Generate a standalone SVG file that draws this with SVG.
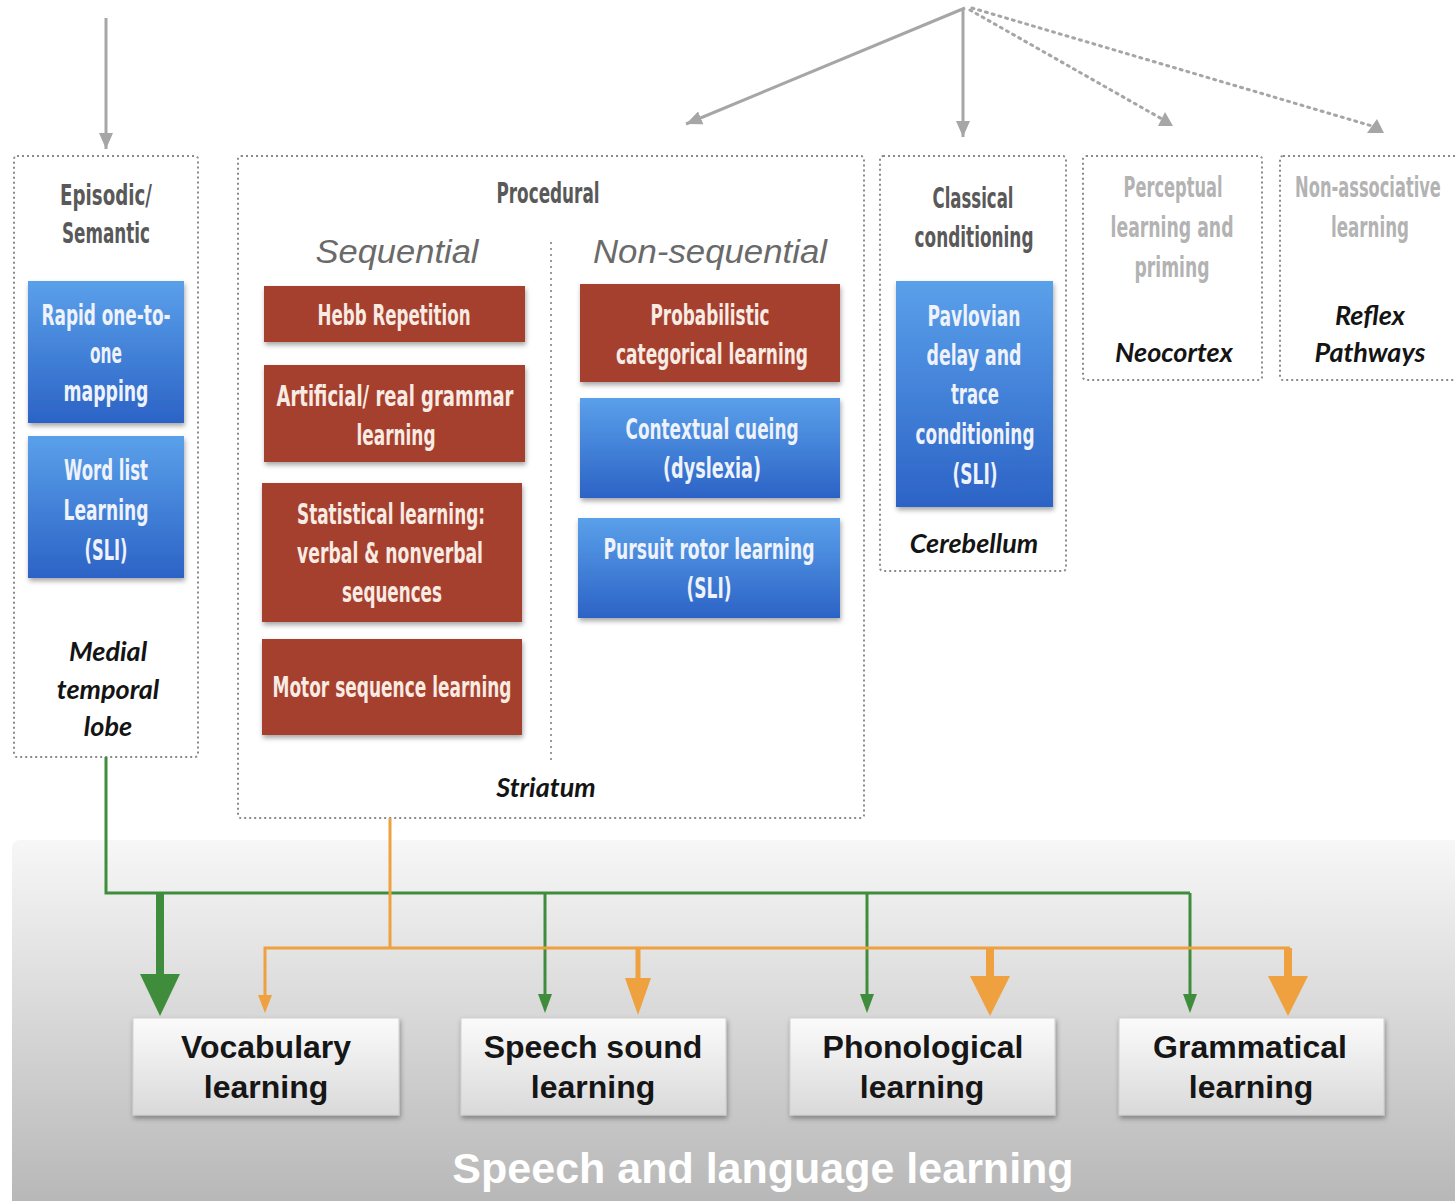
<svg xmlns="http://www.w3.org/2000/svg" width="1455" height="1201" viewBox="0 0 1455 1201">
  <style>
    .frame { fill: #fff; stroke: #8a8a8a; stroke-width: 2; stroke-dasharray: 2 3; }
    .cond { font-family: "DejaVu Sans Condensed", "DejaVu Sans", sans-serif; font-stretch: condensed; font-weight: 700; text-anchor: middle; }
    .head { font-size: 29px; fill: #595959; }
    .faint { font-size: 29px; fill: #b3b3b3; }
    .inbox { font-size: 29px; fill: #eef2fa; }
    .inred { font-size: 29px; fill: #f8ebe4; }
    .region { font-family: Lato, "Open Sans", sans-serif; font-style: italic; font-weight: 700; font-size: 27px; fill: #141414; text-anchor: middle; }
    .sub { font-family: "Liberation Sans", Arial, sans-serif; font-style: italic; font-weight: 300; font-size: 34px; fill: #6a6a6a; text-anchor: middle; }
    .outcome { font-family: "Liberation Sans", Arial, sans-serif; font-weight: 700; font-size: 32px; fill: #161616; text-anchor: middle; }
    .blue { fill: url(#blueGrad); filter: url(#shadow); }
    .red { fill: #a6402d; filter: url(#shadow); }
    .grey { fill: url(#greyGrad); stroke: #cfcfcf; stroke-width: 1; filter: url(#shadow); }
    .link { fill: none; stroke: #a6a6a6; stroke-width: 3; }
    .dotlink { fill: none; stroke: #a6a6a6; stroke-width: 3; stroke-dasharray: 2 5; stroke-linecap: round; }
    .green { fill: none; stroke: #3f8d3c; stroke-width: 3; }
    .orange { fill: none; stroke: #efa03f; stroke-width: 3; }
  </style>
  <defs>
    <linearGradient id="blueGrad" x1="0" y1="0" x2="0" y2="1">
      <stop offset="0" stop-color="#5aa0ea"/>
      <stop offset="1" stop-color="#2c63c6"/>
    </linearGradient>
    <linearGradient id="greyGrad" x1="0" y1="0" x2="0" y2="1">
      <stop offset="0" stop-color="#fbfbfb"/>
      <stop offset="1" stop-color="#d9d9d9"/>
    </linearGradient>
    <linearGradient id="panelGrad" x1="0" y1="0" x2="0" y2="1">
      <stop offset="0" stop-color="#f7f7f7"/>
      <stop offset="1" stop-color="#b6b6b6"/>
    </linearGradient>
    <filter id="shadow" x="-10%" y="-10%" width="125%" height="130%">
      <feDropShadow dx="1" dy="3" stdDeviation="2.5" flood-color="#000" flood-opacity="0.35"/>
    </filter>
    <marker id="grayHead" markerUnits="userSpaceOnUse" markerWidth="18" markerHeight="16" refX="16" refY="8" orient="auto">
      <path d="M0,1 L16,8 L0,15 z" fill="#a6a6a6"/>
    </marker>
  </defs>

  <!-- lower panel: speech and language outcomes -->
  <rect id="panel" x="12" y="840" width="1450" height="370" rx="8" fill="url(#panelGrad)"/>
  <text x="763" y="1183" font-family="Liberation Sans, Arial, sans-serif" font-weight="700" font-size="43" fill="#ffffff" text-anchor="middle">Speech and language learning</text>

  <!-- memory systems -->
  <g id="episodic">
    <rect class="frame" x="14" y="156" width="184" height="601" rx="3"/>
    <text class="cond head" x="106" y="205" textLength="92" lengthAdjust="spacingAndGlyphs">Episodic/</text>
    <text class="cond head" x="106" y="243" textLength="88" lengthAdjust="spacingAndGlyphs">Semantic</text>
    <text class="region" x="108" y="661">Medial</text>
    <text class="region" x="108" y="699">temporal</text>
    <text class="region" x="108" y="736">lobe</text>
  </g>
  <g id="rapid-mapping">
    <rect class="blue" x="28" y="281" width="156" height="142"/>
    <text class="cond inbox" x="106" y="325" textLength="129" lengthAdjust="spacingAndGlyphs">Rapid one-to-</text>
    <text class="cond inbox" x="106" y="363" textLength="32" lengthAdjust="spacingAndGlyphs">one</text>
    <text class="cond inbox" x="106" y="401" textLength="85" lengthAdjust="spacingAndGlyphs">mapping</text>
  </g>
  <g id="word-list">
    <rect class="blue" x="28" y="436" width="156" height="142"/>
    <text class="cond inbox" x="106" y="480" textLength="84" lengthAdjust="spacingAndGlyphs">Word list</text>
    <text class="cond inbox" x="106" y="520" textLength="85" lengthAdjust="spacingAndGlyphs">Learning</text>
    <text class="cond inbox" x="106" y="560" textLength="43" lengthAdjust="spacingAndGlyphs">(SLI)</text>
  </g>

  <g id="procedural">
    <rect class="frame" x="238" y="156" width="626" height="662" rx="3"/>
    <text class="cond head" x="548" y="203" textLength="103" lengthAdjust="spacingAndGlyphs">Procedural</text>
    <text class="sub" x="397" y="263" textLength="163" lengthAdjust="spacingAndGlyphs">Sequential</text>
    <text class="sub" x="710" y="263" textLength="234" lengthAdjust="spacingAndGlyphs">Non-sequential</text>
    <line x1="551" y1="242" x2="551" y2="760" stroke="#9a9a9a" stroke-width="2" stroke-dasharray="2 4"/>
    <text class="region" x="546" y="797">Striatum</text>
  </g>
  <g id="hebb">
    <rect class="red" x="264" y="286" width="261" height="56"/>
    <text class="cond inred" x="394" y="325" textLength="153" lengthAdjust="spacingAndGlyphs">Hebb Repetition</text>
  </g>
  <g id="grammar-learning">
    <rect class="red" x="264" y="365" width="261" height="97"/>
    <text class="cond inred" x="395" y="406" textLength="237" lengthAdjust="spacingAndGlyphs">Artificial/ real grammar</text>
    <text class="cond inred" x="396" y="445" textLength="79" lengthAdjust="spacingAndGlyphs">learning</text>
  </g>
  <g id="statistical">
    <rect class="red" x="262" y="483" width="260" height="139"/>
    <text class="cond inred" x="391" y="524" textLength="188" lengthAdjust="spacingAndGlyphs">Statistical learning:</text>
    <text class="cond inred" x="390" y="563" textLength="186" lengthAdjust="spacingAndGlyphs">verbal &amp; nonverbal</text>
    <text class="cond inred" x="392" y="602" textLength="100" lengthAdjust="spacingAndGlyphs">sequences</text>
  </g>
  <g id="motor-sequence">
    <rect class="red" x="262" y="639" width="260" height="96"/>
    <text class="cond inred" x="392" y="697" textLength="239" lengthAdjust="spacingAndGlyphs">Motor sequence learning</text>
  </g>
  <g id="probabilistic">
    <rect class="red" x="580" y="284" width="260" height="98"/>
    <text class="cond inred" x="710" y="325" textLength="119" lengthAdjust="spacingAndGlyphs">Probabilistic</text>
    <text class="cond inred" x="712" y="364" textLength="192" lengthAdjust="spacingAndGlyphs">categorical learning</text>
  </g>
  <g id="contextual-cueing">
    <rect class="blue" x="580" y="398" width="260" height="100"/>
    <text class="cond inbox" x="712" y="439" textLength="173" lengthAdjust="spacingAndGlyphs">Contextual cueing</text>
    <text class="cond inbox" x="712" y="478" textLength="98" lengthAdjust="spacingAndGlyphs">(dyslexia)</text>
  </g>
  <g id="pursuit-rotor">
    <rect class="blue" x="578" y="518" width="262" height="100"/>
    <text class="cond inbox" x="709" y="559" textLength="211" lengthAdjust="spacingAndGlyphs">Pursuit rotor learning</text>
    <text class="cond inbox" x="709" y="598" textLength="45" lengthAdjust="spacingAndGlyphs">(SLI)</text>
  </g>

  <g id="classical">
    <rect class="frame" x="880" y="156" width="186" height="415" rx="3"/>
    <text class="cond head" x="973" y="208" textLength="81" lengthAdjust="spacingAndGlyphs">Classical</text>
    <text class="cond head" x="974" y="247" textLength="119" lengthAdjust="spacingAndGlyphs">conditioning</text>
    <text class="region" x="974" y="553">Cerebellum</text>
  </g>
  <g id="pavlovian">
    <rect class="blue" x="896" y="281" width="157" height="226"/>
    <text class="cond inbox" x="974" y="326" textLength="93" lengthAdjust="spacingAndGlyphs">Pavlovian</text>
    <text class="cond inbox" x="974" y="365" textLength="95" lengthAdjust="spacingAndGlyphs">delay and</text>
    <text class="cond inbox" x="975" y="404" textLength="48" lengthAdjust="spacingAndGlyphs">trace</text>
    <text class="cond inbox" x="975" y="444" textLength="119" lengthAdjust="spacingAndGlyphs">conditioning</text>
    <text class="cond inbox" x="975" y="484" textLength="45" lengthAdjust="spacingAndGlyphs">(SLI)</text>
  </g>

  <g id="perceptual">
    <rect class="frame" x="1083" y="156" width="179" height="224" rx="3"/>
    <text class="cond faint" x="1173" y="197" textLength="99" lengthAdjust="spacingAndGlyphs">Perceptual</text>
    <text class="cond faint" x="1172" y="237" textLength="123" lengthAdjust="spacingAndGlyphs">learning and</text>
    <text class="cond faint" x="1172" y="277" textLength="75" lengthAdjust="spacingAndGlyphs">priming</text>
    <text class="region" x="1174" y="362">Neocortex</text>
  </g>
  <g id="non-associative">
    <rect class="frame" x="1280" y="156" width="185" height="224" rx="3"/>
    <text class="cond faint" transform="translate(1368,197) scale(0.6,1)" x="0" y="0" textLength="243" lengthAdjust="spacingAndGlyphs">Non-associative</text>
    <text class="cond faint" x="1370" y="237" textLength="78" lengthAdjust="spacingAndGlyphs">learning</text>
    <text class="region" x="1370" y="325">Reflex</text>
    <text class="region" x="1370" y="362">Pathways</text>
  </g>

  <!-- outcome boxes -->
  <g id="vocabulary">
    <rect class="grey" x="133" y="1018" width="266" height="97"/>
    <text class="outcome" x="266" y="1058">Vocabulary</text>
    <text class="outcome" x="266" y="1098">learning</text>
  </g>
  <g id="speech-sound">
    <rect class="grey" x="461" y="1018" width="265" height="97"/>
    <text class="outcome" x="593" y="1058">Speech sound</text>
    <text class="outcome" x="593" y="1098">learning</text>
  </g>
  <g id="phonological">
    <rect class="grey" x="790" y="1018" width="265" height="97"/>
    <text class="outcome" x="923" y="1058">Phonological</text>
    <text class="outcome" x="922" y="1098">learning</text>
  </g>
  <g id="grammatical">
    <rect class="grey" x="1119" y="1018" width="265" height="97"/>
    <text class="outcome" x="1250" y="1058">Grammatical</text>
    <text class="outcome" x="1251" y="1098">learning</text>
  </g>

  <!-- connectors -->
  <g id="connectors">
    <!-- incoming grey arrows -->
    <line class="link" x1="106" y1="18" x2="106" y2="149" marker-end="url(#grayHead)"/>
    <line class="link" x1="965" y1="8" x2="686" y2="124" marker-end="url(#grayHead)"/>
    <line class="link" x1="963" y1="8" x2="963" y2="137" marker-end="url(#grayHead)"/>
    <line class="dotlink" x1="970" y1="10" x2="1162" y2="119"/>
    <path d="M1158,126 L1173,126 L1165,112 z" fill="#a6a6a6"/>
    <line class="dotlink" x1="972" y1="8" x2="1372" y2="126"/>
    <path d="M1367,133 L1384,133 L1377,119 z" fill="#a6a6a6"/>

    <!-- medial temporal lobe pathway (green) -->
    <polyline class="green" points="106,757 106,893 1190,893"/>
    <line x1="160" y1="893" x2="160" y2="978" stroke="#3f8d3c" stroke-width="8"/>
    <path d="M140,974 L180,974 L160,1016 z" fill="#3f8d3c"/>
    <line class="green" x1="545" y1="893" x2="545" y2="997"/>
    <path d="M538,994 L552,994 L545,1013 z" fill="#3f8d3c"/>
    <line class="green" x1="867" y1="893" x2="867" y2="997"/>
    <path d="M860,994 L874,994 L867,1013 z" fill="#3f8d3c"/>
    <line class="green" x1="1190" y1="893" x2="1190" y2="997"/>
    <path d="M1183,994 L1197,994 L1190,1013 z" fill="#3f8d3c"/>

    <!-- striatal pathway (orange) -->
    <line class="orange" x1="390" y1="818" x2="390" y2="948"/>
    <polyline class="orange" points="265,997 265,948 1290,948"/>
    <path d="M258,995 L272,995 L265,1013 z" fill="#efa03f"/>
    <line x1="638" y1="948" x2="638" y2="982" stroke="#efa03f" stroke-width="5"/>
    <path d="M625,978 L651,978 L638,1015 z" fill="#efa03f"/>
    <line x1="990" y1="948" x2="990" y2="980" stroke="#efa03f" stroke-width="8"/>
    <path d="M970,976 L1010,976 L990,1016 z" fill="#efa03f"/>
    <line x1="1288" y1="948" x2="1288" y2="980" stroke="#efa03f" stroke-width="8"/>
    <path d="M1268,976 L1308,976 L1288,1016 z" fill="#efa03f"/>
  </g>
</svg>
